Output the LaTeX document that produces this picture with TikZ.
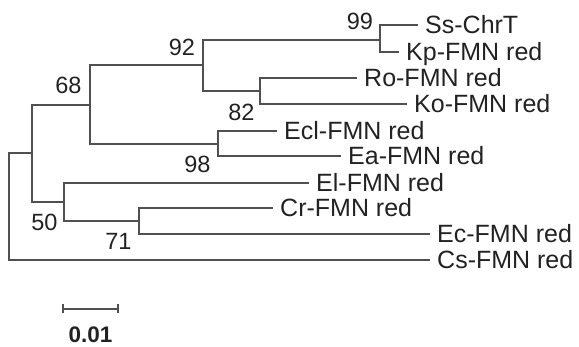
\documentclass[tikz,border=0pt]{standalone}
\usepackage{fontspec}
\setmainfont{Liberation Sans}
\usepackage{tikz}
\usetikzlibrary{arrows.meta}
\definecolor{branchgray}{HTML}{505050}
\definecolor{labelgray}{HTML}{222222}

\begin{document}
\begin{tikzpicture}[x=1pt,y=-1pt,
  branch/.style={draw=branchgray,line width=1.8pt,line cap=butt},
  leaf/.style={anchor=west,inner xsep=7pt,text height=18pt,text depth=0pt,
    text=labelgray,font=\fontsize{25}{30}\selectfont},
  boot/.style={inner sep=0pt,text height=17pt,text depth=0pt,
    text=labelgray,font=\fontsize{23.5}{28}\selectfont}]
\useasboundingbox (0,0) rectangle (579,347);
% inner nodes of the tree
\coordinate (root) at (9,206);
\coordinate (nA) at (32,153);
\coordinate (n68) at (90,105);
\coordinate (n92) at (203,65);
\coordinate (n99) at (380,40);
\coordinate (n82) at (260,91);
\coordinate (n98) at (218,144);
\coordinate (nB) at (64,202);
\coordinate (n71) at (139,221);
% leaves
\node[leaf] (ss) at (418,25) {Ss-ChrT};
\node[leaf] (kp) at (399,52) {Kp-FMN red};
\node[leaf] (ro) at (357,78) {Ro-FMN red};
\node[leaf] (ko) at (407,104) {Ko-FMN red};
\node[leaf] (ecl) at (277,131) {Ecl-FMN red};
\node[leaf] (ea) at (341,156) {Ea-FMN red};
\node[leaf] (el) at (309,183) {El-FMN red};
\node[leaf] (cr) at (273,208) {Cr-FMN red};
\node[leaf] (ec) at (430,234) {Ec-FMN red};
\node[leaf] (cs) at (430,260) {Cs-FMN red};
% bootstrap values
\node[boot] (b99) at (360,21) {99};
\node[boot] (b92) at (182,47) {92};
\node[boot] (b68) at (68.5,85) {68};
\node[boot] (b82) at (241.5,112) {82};
\node[boot] (b98) at (197.5,164) {98};
\node[boot] (b50) at (44.5,222) {50};
\node[boot] (b71) at (118.5,241) {71};
% branches
\draw[branch] (root) |- (nA);
\draw[branch] (root) |- (cs.west);
\draw[branch] (nA) |- (n68);
\draw[branch] (nA) |- (nB);
\draw[branch] (n68) |- (n92);
\draw[branch] (n68) |- (n98);
\draw[branch] (n92) |- (n99);
\draw[branch] (n92) |- (n82);
\draw[branch] (n99) |- (ss.west);
\draw[branch] (n99) |- (kp.west);
\draw[branch] (n82) |- (ro.west);
\draw[branch] (n82) |- (ko.west);
\draw[branch] (n98) |- (ecl.west);
\draw[branch] (n98) |- (ea.west);
\draw[branch] (nB) |- (el.west);
\draw[branch] (nB) |- (n71);
\draw[branch] (n71) |- (cr.west);
\draw[branch] (n71) |- (ec.west);
% scale bar
\coordinate (sbl) at (62,309);
\coordinate (sbr) at (119,309);
\draw[branch,{Bar[width=9pt,line width=1.8pt]}-{Bar[width=9pt,line width=1.8pt]}] (sbl) -- (sbr);
\node[boot,font=\bfseries\fontsize{22.5}{27}\selectfont] (sblab) at (90.5,334.5) {0.01};
\end{tikzpicture}
\end{document}
